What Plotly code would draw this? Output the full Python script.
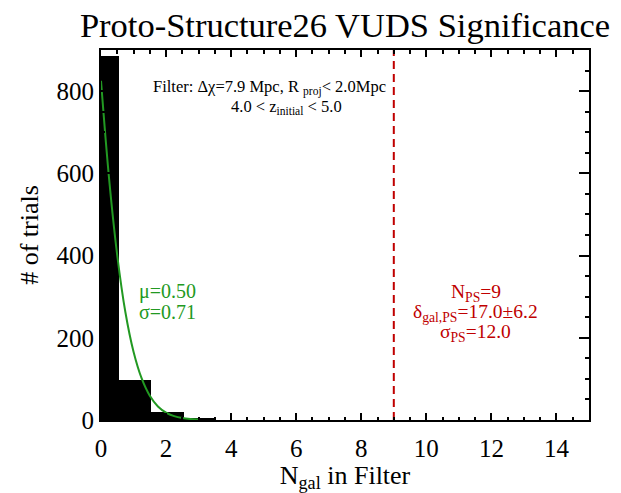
import plotly.graph_objects as go

# Histogram of trials (bins of width 1 in N_gal)
n_gal = [0, 1, 2, 3]
n_trials = [886, 98, 19, 3]

# Fitted gaussian curve
fit_x = [0, 0.25, 0.5, 0.75, 1.0, 1.25, 1.5, 1.75, 2.0, 2.25, 2.5, 2.75, 3.0]
fit_y = [825, 586, 400, 262, 166, 101, 59, 33, 18, 9.4, 4.7, 2.3, 1.0]

n_ps = 9
x_ticks = [0, 2, 4, 6, 8, 10, 12, 14]
y_ticks = [0, 200, 400, 600, 800]

filter_lines = ["Filter: Δχ=7.9 Mpc, R <sub>proj</sub>< 2.0Mpc",
                "4.0 < z<sub>initial</sub> < 5.0"]
fit_lines = ["μ=0.50", "σ=0.71"]
ps_lines = ["N<sub>PS</sub>=9", "δ<sub>gal,PS</sub>=17.0±6.2", "σ<sub>PS</sub>=12.0"]

SERIF = "Liberation Serif, Times New Roman, serif"
GREEN = "#229922"
RED = "#c00000"

fig = go.Figure()
fig.add_trace(go.Bar(x=n_gal, y=n_trials, width=1, offset=-0.45,
                     marker=dict(color="black", line=dict(width=0)),
                     showlegend=False))
fig.add_trace(go.Scatter(x=fit_x, y=fit_y, mode="lines",
                         line=dict(color=GREEN, width=2, shape="spline"),
                         showlegend=False))
fig.add_trace(go.Scatter(x=[n_ps, n_ps], y=[0, 900], mode="lines",
                         line=dict(color=RED, width=2, dash="8px,5px"),
                         showlegend=False))

fig.update_layout(
    width=613, height=485,
    margin=dict(l=93, r=32, t=42, b=73),
    paper_bgcolor="white", plot_bgcolor="white",
    font=dict(family=SERIF, color="black"),
    title=dict(text="Proto-Structure26 VUDS Significance", x=0.5, xref="paper",
               y=0.965, yref="container", yanchor="middle",
               font=dict(family=SERIF, size=34.5, color="black")),
    bargap=0,
)
fig.update_xaxes(range=[0, 15], tickvals=x_ticks, ticks="inside", ticklen=7,
                 tickwidth=2, tickcolor="black", showline=True, linewidth=2,
                 linecolor="black", mirror="ticks", showgrid=False, zeroline=False,
                 minor=dict(ticks="inside", dtick=0.5, ticklen=3.5, tickwidth=2,
                            tickcolor="black", showgrid=False),
                 tickfont=dict(family=SERIF, size=25), ticklabelstandoff=5,
                 title=dict(text="N<sub>gal</sub> in Filter", standoff=2,
                            font=dict(family=SERIF, size=26)))
fig.update_yaxes(range=[0, 900], tickvals=y_ticks, ticks="inside", ticklen=10,
                 tickwidth=2, tickcolor="black", showline=True, linewidth=2,
                 linecolor="black", mirror="ticks", showgrid=False, zeroline=False,
                 minor=dict(ticks="inside", dtick=50, ticklen=4, tickwidth=2,
                            tickcolor="black", showgrid=False),
                 tickfont=dict(family=SERIF, size=25),
                 title=dict(text="# of trials", standoff=10,
                            font=dict(family=SERIF, size=26)))

# Filter description (two lines)
for txt, xx, yy in zip(filter_lines, [5.19, 5.69], [810, 761]):
    fig.add_annotation(x=xx, y=yy, xref="x", yref="y", showarrow=False,
                       text=txt, font=dict(family=SERIF, size=16.5, color="black"))
# Fit parameters (green)
for txt, yy in zip(fit_lines, [312, 263]):
    fig.add_annotation(x=1.1, y=yy, xref="x", yref="y", xanchor="left",
                       showarrow=False, text=txt,
                       font=dict(family=SERIF, size=20, color=GREEN))
# Proto-structure values (red)
for txt, yy in zip(ps_lines, [310, 261, 212]):
    fig.add_annotation(x=11.52, y=yy, xref="x", yref="y", showarrow=False,
                       text=txt, font=dict(family=SERIF, size=19.5, color=RED))

fig.write_html("out.html")
